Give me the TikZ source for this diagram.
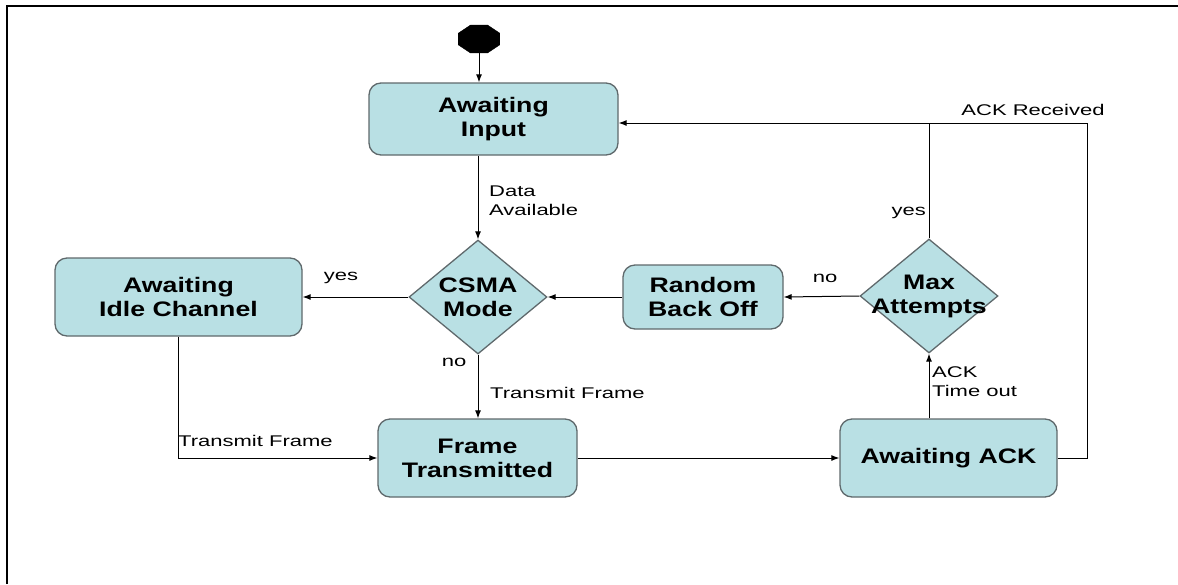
\documentclass[tikz,border=0pt]{standalone}
\usepackage{fontspec}
\setmainfont{Liberation Sans}
\newfontfamily\boxfont[FakeStretch=1.27]{Liberation Sans}
\newfontfamily\lblfont[FakeStretch=1.42]{Liberation Sans}
\usetikzlibrary{shapes.geometric,arrows.meta}
\definecolor{boxfill}{RGB}{185,224,228}
\definecolor{boxline}{RGB}{95,105,108}
\begin{document}
\begin{tikzpicture}[x=1pt,y=-1pt,
  state/.style={draw=boxline, line width=1.3pt, fill=boxfill, rounded corners=12pt,
    align=center, font=\boxfont\bfseries\fontsize{21}{24}\selectfont, inner sep=0pt},
  choice/.style={diamond, draw=boxline, line width=1.3pt, fill=boxfill,
    inner sep=0pt, minimum width=138pt, minimum height=114pt},
  choicetext/.style={align=center, font=\boxfont\bfseries\fontsize{21}{24}\selectfont, inner sep=0pt},
  startnode/.style={regular polygon, regular polygon sides=8, fill=black, draw=black,
    minimum size=30pt, inner sep=0pt, xscale=1.5},
  lbl/.style={font=\lblfont\fontsize{15.5}{19}\selectfont, inner sep=0pt, align=left},
  conn/.style={draw, line width=1pt, -{Latex[length=8pt,width=6pt]}},
  plain/.style={draw, line width=1pt}]
\useasboundingbox (0,0) rectangle (1178,584);
\draw[line width=2pt] (7,584) -- (7,6) -- (1178,6);

\node[startnode] (start) at (479,39) {};
\node[state, minimum width=249pt, minimum height=72pt] (input) at (493.5,119) {Awaiting\\Input};
\node[choice] (csma) at (478,297) {};
\node[choicetext] (csmat) at (478,297) {CSMA\\Mode};
\node[state, minimum width=247pt, minimum height=78pt] (idle) at (178.5,297) {Awaiting\\Idle Channel};
\node[state, minimum width=160pt, minimum height=64pt] (rand) at (703,297) {Random\\Back Off};
\node[choice] (max) at (929,296) {};
\node[choicetext] (maxt) at (929,296) {Max\\Attempts};
\node[state, minimum width=199pt, minimum height=78pt] (frame) at (477.5,458) {Frame\\Transmitted};
\node[state, minimum width=217pt, minimum height=78pt] (ack) at (948.5,458) {Awaiting ACK};

\coordinate (jn) at (929,123);

\draw[conn] (start.south) -- (start.south |- input.north);
\draw[conn] (csma.north |- input.south) -- (csma.north);
\draw[conn] (csma.west) -- (idle.east);
\draw[conn] (csma.south) -- (csma.south |- frame.north);
\draw[conn] (idle.south) |- (frame.west);
\draw[conn] (frame.east) -- (ack.west);
\draw[conn] (max.south |- ack.north) -- (max.south);
\draw[conn] (max.west) -- (rand.east);
\draw[conn] (rand.west) -- (csma.east);
\draw[conn] (max.north) -- (jn) -- (input.east |- jn);
\draw[plain] (ack.east) -- ++(30,0) |- (jn);

\node[lbl, anchor=north west] (lda) at (489,186) {Data\\Available};
\node[lbl] (lyes1) at (341,278) {yes};
\node[lbl] (lno1) at (454,362) {no};
\node[lbl, anchor=west] (ltf1) at (490,393) {Transmit Frame};
\node[lbl, anchor=west] (ltf2) at (178,441) {Transmit Frame};
\node[lbl] (lno2) at (825,278) {no};
\node[lbl, anchor=east] (lyes2) at (926,213) {yes};
\node[lbl, anchor=north west] (lto) at (932,366) {ACK\\Time out};
\node[lbl] (lrec) at (1033,110) {ACK Received};
\end{tikzpicture}
\end{document}
